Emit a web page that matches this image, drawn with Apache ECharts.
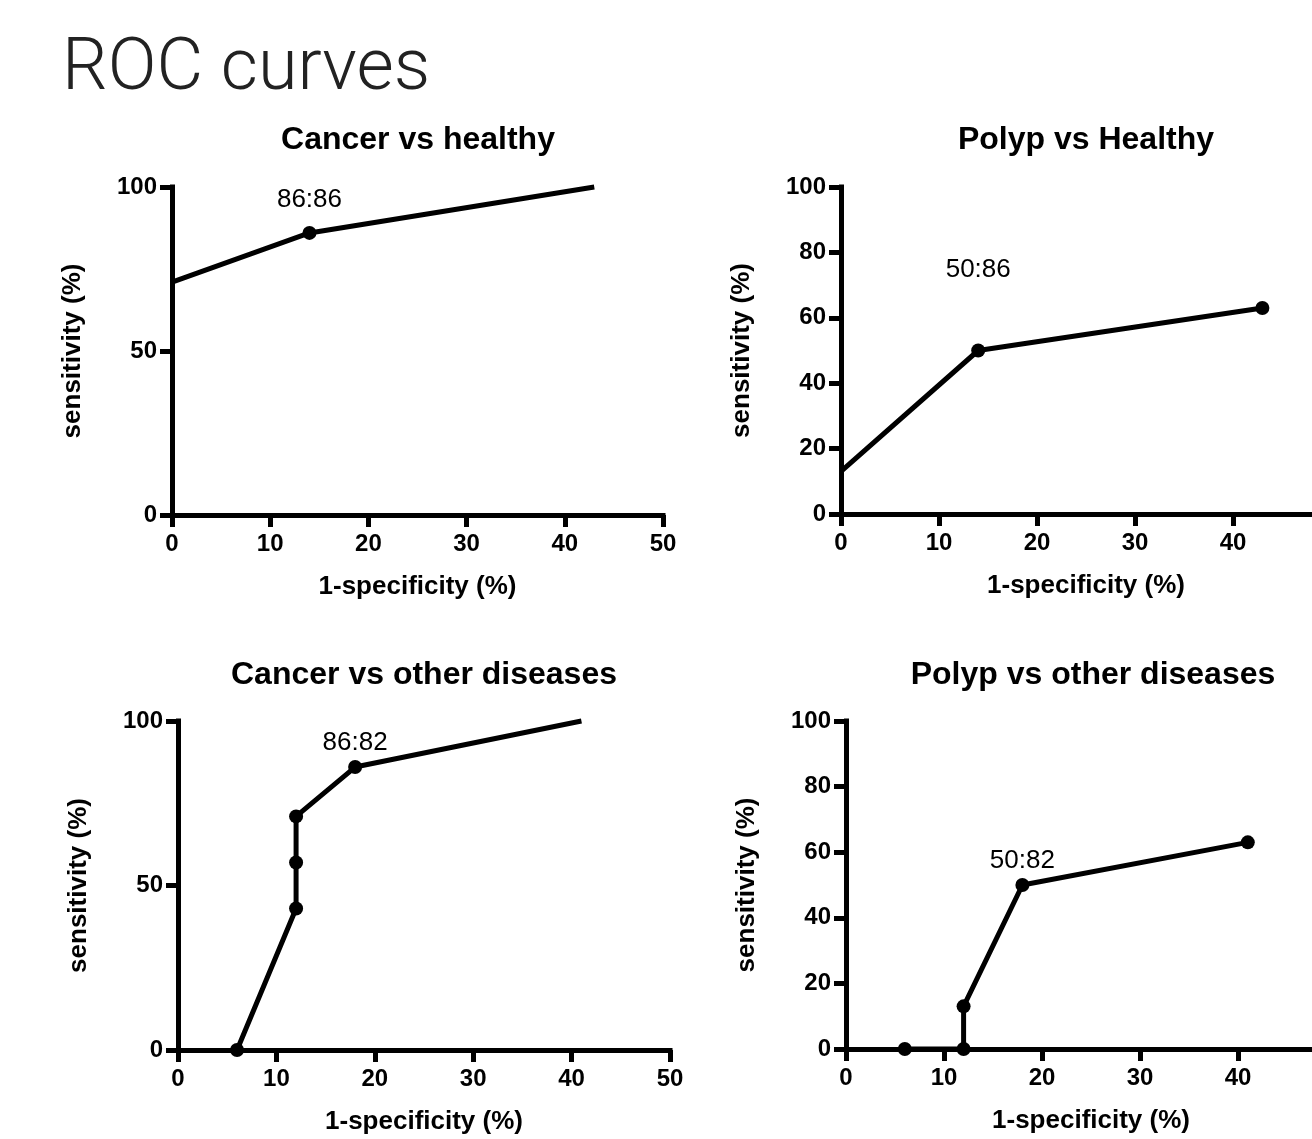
<!DOCTYPE html>
<html>
<head>
<meta charset="utf-8">
<title>ROC curves</title>
<script src="https://cdn.jsdelivr.net/npm/echarts@6/dist/echarts.min.js"></script>
<style>
  html, body { margin: 0; padding: 0; background: #fff; overflow: hidden; }
  #rocChart { width: 1312px; height: 1139px; }
</style>
</head>
<body>
<div id="rocChart"></div>
<script>
// 各面板标题
const panelTitles = ['Cancer vs healthy', 'Polyp vs Healthy', 'Cancer vs other diseases', 'Polyp vs other diseases']

// 1-specificity (%) / sensitivity (%)
const cancerHealthyX = [0, 14, 43]
const cancerHealthyY = [71, 86, 100]
const polypHealthyX = [0, 14, 43]
const polypHealthyY = [13, 50, 63]
const cancerOtherX = [6, 12, 12, 12, 18, 41]
const cancerOtherY = [0, 43, 57, 71, 86, 100]
const polypOtherX = [6, 12, 12, 18, 41]
const polypOtherY = [0, 0, 13, 50, 63]

// 画了圆点的数据点序号
const cancerHealthyDots = [1]
const polypHealthyDots = [1, 2]
const cancerOtherDots = [0, 1, 2, 3, 4]
const polypOtherDots = [0, 1, 2, 3, 4]

// 标注 (sensitivity:specificity)
const annotTexts = ['86:86', '50:86', '86:82', '50:82']
const annotIndex = [1, 1, 4, 3]

// y轴刻度间隔
const yIntervals = [50, 20, 50, 20]

const xs = [cancerHealthyX, polypHealthyX, cancerOtherX, polypOtherX]
const ys = [cancerHealthyY, polypHealthyY, cancerOtherY, polypOtherY]
const dots = [cancerHealthyDots, polypHealthyDots, cancerOtherDots, polypOtherDots]

// 布局
const grids = [
  { left: 172, top: 187, width: 491, height: 328 },
  { left: 841, top: 187, width: 490, height: 327 },
  { left: 178, top: 721, width: 492, height: 329 },
  { left: 846, top: 721, width: 490, height: 328 }
].map(function (g) { return Object.assign({ outerBoundsMode: 'none', containLabel: false }, g) })
const titlePos = [[418, 124], [1086, 124], [424, 659], [1093, 659]]
const labelGap = [13, 61, 4, 4]

const FONT = '"Liberation Sans", Arial, sans-serif'

let myChart = echarts.init(document.getElementById('rocChart'))

let titles = [{
  text: 'ROC curves',
  left: 62,
  top: 35,
  padding: 0,
  textStyle: {
    fontFamily: 'Roboto, "Open Sans", sans-serif',
    fontWeight: 300,
    fontSize: 72,
    color: '#222'
  }
}]
let xAxes = []
let yAxes = []
let series = []

grids.forEach(function (g, i) {
  titles.push({
    text: panelTitles[i],
    left: titlePos[i][0],
    top: titlePos[i][1],
    padding: 0,
    textAlign: 'center',
    textStyle: { fontFamily: FONT, fontWeight: 'bold', fontSize: 32, color: '#000' }
  })
  let axisCommon = {
    gridIndex: i,
    type: 'value',
    min: 0,
    nameLocation: 'middle',
    nameTextStyle: { fontFamily: FONT, fontWeight: 'bold', fontSize: 26, color: '#000' },
    axisLine: { onZero: false, lineStyle: { color: '#000', width: 5, cap: 'square' } },
    axisTick: { length: 12, lineStyle: { color: '#000', width: 5 } },
    axisLabel: { fontFamily: FONT, fontWeight: 'bold', fontSize: 24, color: '#000' },
    splitLine: { show: false }
  }
  xAxes.push(Object.assign({}, axisCommon, {
    max: 50,
    interval: 10,
    name: '1-specificity (%)',
    nameGap: 59,
    axisLabel: Object.assign({}, axisCommon.axisLabel, { margin: 17 })
  }))
  yAxes.push(Object.assign({}, axisCommon, {
    max: 100,
    interval: yIntervals[i],
    name: 'sensitivity (%)',
    nameGap: 86,
    axisLabel: Object.assign({}, axisCommon.axisLabel, { margin: 15 })
  }))
  let data = xs[i].map(function (x, k) {
    let item = { value: [x, ys[i][k]] }
    if (dots[i].indexOf(k) < 0) item.symbol = 'none'
    if (k === annotIndex[i]) {
      item.label = {
        show: true,
        position: 'top',
        distance: labelGap[i],
        formatter: annotTexts[i],
        fontFamily: FONT,
        fontSize: 26,
        color: '#000'
      }
    }
    return item
  })
  series.push({
    type: 'line',
    xAxisIndex: i,
    yAxisIndex: i,
    data: data,
    clip: false,
    symbol: 'circle',
    symbolSize: 14,
    lineStyle: { color: '#000', width: 5 },
    itemStyle: { color: '#000' },
    label: { show: false },
    animation: false,
    z: 5
  })
})

myChart.setOption({
  backgroundColor: '#fff',
  animation: false,
  title: titles,
  grid: grids,
  xAxis: xAxes,
  yAxis: yAxes,
  series: series
})
</script>
</body>
</html>
